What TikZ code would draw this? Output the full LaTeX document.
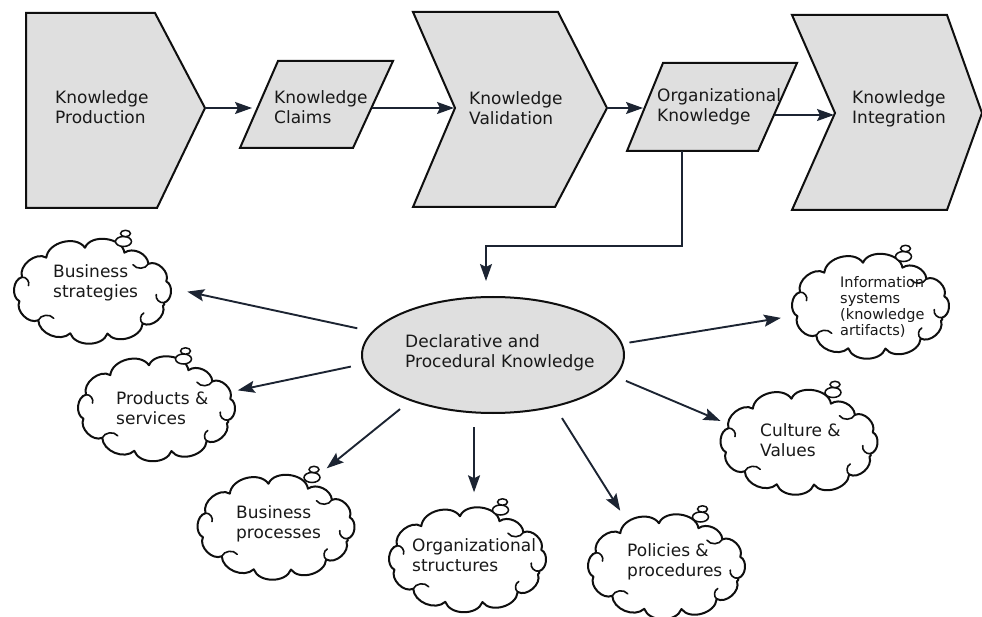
\documentclass[tikz,border=0pt]{standalone}
\usepackage{fontspec}
\setmainfont{DejaVu Sans}
\usetikzlibrary{shapes.geometric,arrows.meta}
\definecolor{arrowcol}{RGB}{28,36,50}
\definecolor{inkcol}{RGB}{15,15,15}
\newcommand{\kcloud}[2]{%
 \begin{scope}[shift={(#1.center)},x=1pt,y=1pt]
  \draw[cloudline] (-15:74 and 43) to[bend right=70] (14:76 and 42)
     to[bend right=70] (40:73 and 43) to[bend right=60] (62:68 and 44)
     to[bend right=75] (96:72 and 44) to[bend right=70] (128:75 and 43)
     to[bend right=70] (160:75 and 42) to[bend right=70] (193:75 and 43)
     to[bend right=70] (222:73 and 43) to[bend right=65] (252:72 and 44)
     to[bend right=70] (282:72 and 43) to[bend right=70] (312:75 and 43)
     to[bend right=70] (340:75 and 42) to[bend right=60] (-15:74 and 43) -- cycle;
  \draw[hookline] (40:73 and 43) to[bend left=60] (50:63 and 35);
  \draw[hookline] (160:75 and 42) to[bend left=60] (170:65 and 34);
  \draw[hookline] (222:73 and 43) to[bend left=60] (232:63 and 34);
  \draw[hookline] (312:75 and 43) to[bend left=60] (322:65 and 35);
  \draw[hookline] (-15:74 and 43) to[bend left=60] (-5:64 and 35);
  \draw[bub] (#2,50) ellipse [x radius=8,y radius=5];
  \draw[bub] (#2+2,58) ellipse [x radius=5,y radius=3.2];
 \end{scope}}
\begin{document}
\begin{tikzpicture}[x=1pt,y=-1pt,
 panel/.style={draw=inkcol,line width=2pt,fill=gray!25,line join=miter},
 arr/.style={draw=arrowcol,line width=1.9pt,-{Stealth[length=17pt,width=12pt,inset=3pt]}},
 lbl/.style={font=\fontsize{17}{19.5}\selectfont,align=left,inner sep=0pt,anchor=west,text=black!90},
 slbl/.style={font=\fontsize{14.5}{16}\selectfont,align=left,inner sep=0pt,anchor=west,text=black!90},
 puff/.style={ellipse,minimum width=162pt,minimum height=103pt,inner sep=0pt,draw=none},
 cloudline/.style={draw=inkcol,line width=2pt,fill=white,line join=round},
 hookline/.style={draw=inkcol,line width=1.6pt,line cap=round},
 bub/.style={draw=inkcol,line width=1.5pt,fill=white}]
\useasboundingbox (0,0) rectangle (982,617);

% ---------- top process row ----------
\draw[panel] (26,13) -- (155,13) -- (205,108) -- (157,208) -- (26,208) -- cycle;
\draw[panel] (278,61) -- (393,61) -- (353,148) -- (240,148) -- cycle;
\draw[panel] (413,12) -- (558,12) -- (607,108) -- (555,207) -- (413,207) -- (455,108) -- cycle;
\draw[panel] (663,63) -- (797,63) -- (758,151) -- (627,151) -- cycle;
\draw[panel] (792,15) -- (947,15) -- (982,113) -- (947,210) -- (792,210) -- (835,113) -- cycle;

\node[lbl] (prod) at (55,107) {Knowledge\\Production};
\node[lbl] (claims) at (274,107) {Knowledge\\Claims};
\node[lbl] (valid) at (469,108) {Knowledge\\Validation};
\node[lbl] (orgk) at (657,107) {Organizational\\Knowledge};
\node[lbl] (integ) at (852,109) {Knowledge\\Integration};

\coordinate (prodtip) at (205,108);
\coordinate (claimsL) at (252,108);
\coordinate (claimsR) at (372,108);
\coordinate (valnotch) at (454,108);
\coordinate (valtip) at (607,108);
\coordinate (orgL) at (643,108);
\coordinate (orgR) at (775,115);
\coordinate (intnotch) at (834,115);
\coordinate (orgB) at (682,151);
\coordinate (elb) at (486,246);

\draw[arr] (prodtip) -- (claimsL);
\draw[arr] (claimsR) -- (valnotch);
\draw[arr] (valtip) -- (orgL);
\draw[arr] (orgR) -- (intnotch);

% ---------- central ellipse ----------
\node[ellipse,draw=inkcol,line width=2pt,fill=gray!25,minimum width=262pt,minimum height=116pt,inner sep=0pt] (dk) at (493,355) {};
\node[lbl] (dkt) at (405,353) {Declarative and\\Procedural Knowledge};

\draw[arr,shorten >=15pt] (orgB) |- (elb) -- (elb |- dk.north);

% ---------- clouds ----------
\node[puff] (bs) at (92.5,291.5) {};
\node[puff] (ps) at (156.5,409) {};
\node[puff] (bp) at (276,527.5) {};
\node[puff] (os) at (467.5,560) {};
\node[puff] (pp) at (666.5,567) {};
\node[puff] (cv) at (799,442.5) {};
\node[puff] (is) at (870.5,306.5) {};

\kcloud{bs}{31}
\kcloud{ps}{27}
\kcloud{bp}{36}
\kcloud{os}{33}
\kcloud{pp}{34}
\kcloud{cv}{34}
\kcloud{is}{33}

\node[lbl] (bst) at (53,283) {Business\\strategies};
\node[lbl] (pst) at (116,408) {Products \&\\services};
\node[lbl] (bpt) at (236,524) {Business\\processes};
\node[lbl] (ost) at (412,555) {Organizational\\structures};
\node[lbl] (ppt) at (627,562) {Policies \&\\procedures};
\node[lbl] (cvt) at (760,440) {Culture \&\\Values};
\node[slbl] (ist) at (840,307) {Information\\systems\\(knowledge\\artifacts)};

% ---------- radial arrows ----------
\draw[arr,shorten <=15pt,shorten >=14pt] (dk.169.6) -- (bs.2);
\draw[arr,shorten <=12pt,shorten >=5pt] (dk.184.1) -- (ps.13.1);
\draw[arr,shorten <=13pt,shorten >=20pt] (dk.209.2) -- (bp.53.1);
\draw[arr,shorten <=14pt,shorten >=16pt] (dk.252.6) -- (dk.252.6 |- os.north);
\draw[arr,shorten <=13pt,shorten >=13pt] (dk.320.2) -- (pp.131.4);
\draw[arr,shorten <=11pt,shorten >=4pt] (dk.350.7) -- (cv.165.5);
\draw[arr,shorten <=7pt,shorten >=10pt] (dk.5.1) -- (is.187.2);
\end{tikzpicture}
\end{document}
